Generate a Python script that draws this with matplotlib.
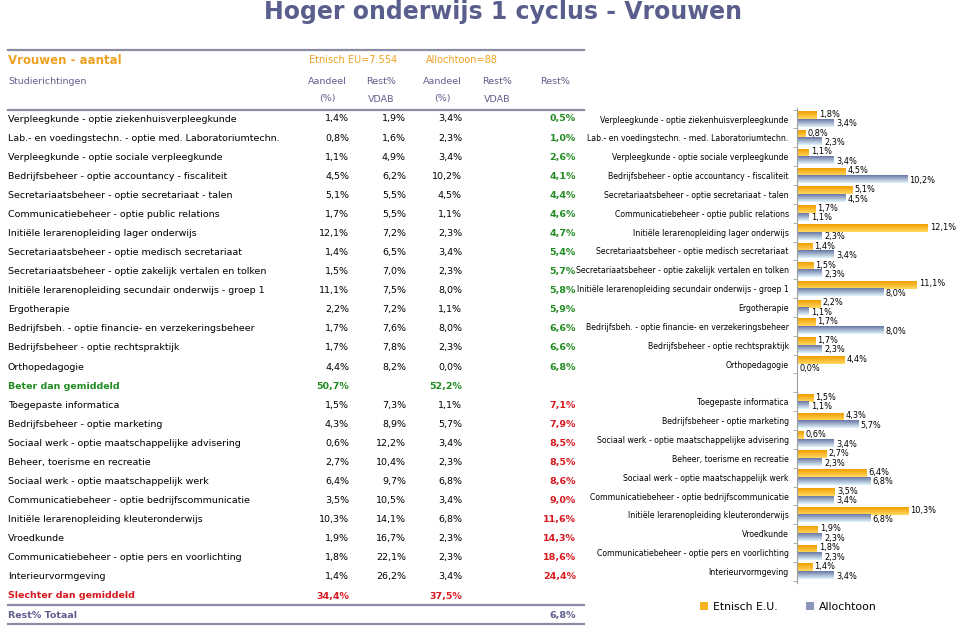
import numpy as np
import matplotlib
matplotlib.use("Agg")
import matplotlib.pyplot as plt
from matplotlib.colors import to_rgb
from matplotlib.patches import Patch

# ---- data ----
table_labels = [
    "Verpleegkunde - optie ziekenhuisverpleegkunde",
    "Lab.- en voedingstechn. - optie med. Laboratoriumtechn.",
    "Verpleegkunde - optie sociale verpleegkunde",
    "Bedrijfsbeheer - optie accountancy - fiscaliteit",
    "Secretariaatsbeheer - optie secretariaat - talen",
    "Communicatiebeheer - optie public relations",
    "Initiële lerarenopleiding lager onderwijs",
    "Secretariaatsbeheer - optie medisch secretariaat",
    "Secretariaatsbeheer - optie zakelijk vertalen en tolken",
    "Initiële lerarenopleiding secundair onderwijs - groep 1",
    "Ergotherapie",
    "Bedrijfsbeh. - optie financie- en verzekeringsbeheer",
    "Bedrijfsbeheer - optie rechtspraktijk",
    "Orthopedagogie",
    "Toegepaste informatica",
    "Bedrijfsbeheer - optie marketing",
    "Sociaal werk - optie maatschappelijke advisering",
    "Beheer, toerisme en recreatie",
    "Sociaal werk - optie maatschappelijk werk",
    "Communicatiebeheer - optie bedrijfscommunicatie",
    "Initiële lerarenopleiding kleuteronderwijs",
    "Vroedkunde",
    "Communicatiebeheer - optie pers en voorlichting",
    "Interieurvormgeving",
]
chart_labels = list(table_labels)
chart_labels[1] = "Lab.- en voedingstechn. - med. Laboratoriumtechn."

etn_aandeel = [1.4, 0.8, 1.1, 4.5, 5.1, 1.7, 12.1, 1.4, 1.5, 11.1, 2.2, 1.7, 1.7, 4.4,
               1.5, 4.3, 0.6, 2.7, 6.4, 3.5, 10.3, 1.9, 1.8, 1.4]
etn_rest = [1.9, 1.6, 4.9, 6.2, 5.5, 5.5, 7.2, 6.5, 7.0, 7.5, 7.2, 7.6, 7.8, 8.2,
            7.3, 8.9, 12.2, 10.4, 9.7, 10.5, 14.1, 16.7, 22.1, 26.2]
allo_aandeel = [3.4, 2.3, 3.4, 10.2, 4.5, 1.1, 2.3, 3.4, 2.3, 8.0, 1.1, 8.0, 2.3, 0.0,
                1.1, 5.7, 3.4, 2.3, 6.8, 3.4, 6.8, 2.3, 2.3, 3.4]
rest_total = [0.5, 1.0, 2.6, 4.1, 4.4, 4.6, 4.7, 5.4, 5.7, 5.8, 5.9, 6.6, 6.6, 6.8,
              7.1, 7.9, 8.5, 8.5, 8.6, 9.0, 11.6, 14.3, 18.6, 24.4]

chart_etn = [1.8, 0.8, 1.1, 4.5, 5.1, 1.7, 12.1, 1.4, 1.5, 11.1, 2.2, 1.7, 1.7, 4.4,
             1.5, 4.3, 0.6, 2.7, 6.4, 3.5, 10.3, 1.9, 1.8, 1.4]
chart_allo = [3.4, 2.3, 3.4, 10.2, 4.5, 1.1, 2.3, 3.4, 2.3, 8.0, 1.1, 8.0, 2.3, 0.0,
              1.1, 5.7, 3.4, 2.3, 6.8, 3.4, 6.8, 2.3, 2.3, 3.4]

n_better = 14
better_avg = [50.7, 52.2]
worse_avg = [34.4, 37.5]
rest_totaal = 6.8

# ---- colours ----
HEAD = "#5f5f8c"
ORANGE_T = "#f0a020"
GREEN = "#228b22"
RED = "#d7191f"
LINE = "#8c8ca4"

W, H = 959, 626
fig = plt.figure(figsize=(W / 100, H / 100), dpi=100)
plt.rcParams['font.family'] = ['DejaVu Sans']


def fx(px):
    return px / W


def fy(py):
    return 1 - py / H


def pct(v):
    return f"{v:.1f}%".replace(".", ",")


fig.text(fx(503), fy(12), "Hoger onderwijs 1 cyclus - Vrouwen", ha="center", va="center",
         fontsize=17, fontweight="bold", color="#5a5e8c")

# ---- table ----
fs = 6.8
for yy in (50, 110, 605, 624):
    fig.add_artist(plt.Line2D([fx(8), fx(584)], [fy(yy), fy(yy)], color=LINE, lw=1.6))

fig.text(fx(8), fy(60), "Vrouwen - aantal", ha="left", va="center", fontsize=8.5,
         fontweight="bold", color=ORANGE_T)
fig.text(fx(353), fy(60), "Etnisch EU=7.554", ha="center", va="center", fontsize=7, color=ORANGE_T)
fig.text(fx(462), fy(60), "Allochtoon=88", ha="center", va="center", fontsize=7, color=ORANGE_T)
fig.text(fx(8), fy(81), "Studierichtingen", ha="left", va="center", fontsize=fs, color=HEAD)
heads = [(327, "Aandeel", "(%)"), (381, "Rest%", "VDAB"), (442, "Aandeel", "(%)"),
         (497, "Rest%", "VDAB"), (555, "Rest%", "")]
for x, a, b in heads:
    fig.text(fx(x), fy(81), a, ha="center", va="center", fontsize=fs, color=HEAD)
    if b:
        fig.text(fx(x), fy(99), b, ha="center", va="center", fontsize=fs, color=HEAD)

col_x = [349, 406, 462, 576]
row_h = 19.08


def row_y(i):
    return 119 + i * row_h


for k, lab in enumerate(table_labels):
    r = k if k < n_better else k + 1
    y = fy(row_y(r))
    fig.text(fx(8), y, lab, ha="left", va="center", fontsize=fs, color="black")
    for x, v in zip(col_x[:3], (etn_aandeel[k], etn_rest[k], allo_aandeel[k])):
        fig.text(fx(x), y, pct(v), ha="right", va="center", fontsize=fs, color="black")
    fig.text(fx(col_x[3]), y, pct(rest_total[k]), ha="right", va="center", fontsize=fs,
             fontweight="bold", color=GREEN if k < n_better else RED)

yb = fy(row_y(n_better))
fig.text(fx(8), yb, "Beter dan gemiddeld", ha="left", va="center", fontsize=fs,
         fontweight="bold", color=GREEN)
fig.text(fx(col_x[0]), yb, pct(better_avg[0]), ha="right", va="center", fontsize=fs,
         fontweight="bold", color=GREEN)
fig.text(fx(col_x[2]), yb, pct(better_avg[1]), ha="right", va="center", fontsize=fs,
         fontweight="bold", color=GREEN)
ys = fy(row_y(len(table_labels) + 1))
fig.text(fx(8), ys, "Slechter dan gemiddeld", ha="left", va="center", fontsize=fs,
         fontweight="bold", color=RED)
fig.text(fx(col_x[0]), ys, pct(worse_avg[0]), ha="right", va="center", fontsize=fs,
         fontweight="bold", color=RED)
fig.text(fx(col_x[2]), ys, pct(worse_avg[1]), ha="right", va="center", fontsize=fs,
         fontweight="bold", color=RED)
yt = fy(row_y(len(table_labels) + 2))
fig.text(fx(8), yt, "Rest% Totaal", ha="left", va="center", fontsize=fs,
         fontweight="bold", color=HEAD)
fig.text(fx(col_x[3]), yt, pct(rest_totaal), ha="right", va="center", fontsize=fs,
         fontweight="bold", color=HEAD)

# ---- bar chart ----
slot = 18.85
top_px, bot_px = 119 - 0.6 * slot, 119 + 24.6 * slot
ax = fig.add_axes([fx(797), fy(bot_px), fx(955) - fx(797), (bot_px - top_px) / H])
xmax = 158 / 10.8
pos = [k if k < n_better else k + 1 for k in range(len(chart_labels))]


def grad(c_top, c_bot, n=32):
    t = np.linspace(0, 1, n)[:, None]
    a, b = np.array(to_rgb(c_top)), np.array(to_rgb(c_bot))
    return (a * (1 - t) + b * t)[:, None, :].repeat(2, axis=1)


g_or = grad("#f29e00", "#ffd860")
g_bl = grad("#6a77a4", "#dff4fa")
bh = 0.4
for p, e, a in zip(pos, chart_etn, chart_allo):
    if e > 0:
        ax.imshow(g_or, extent=[0, e, p, p - bh], aspect="auto", interpolation="bilinear")
    if a > 0:
        ax.imshow(g_bl, extent=[0, a, p + bh, p], aspect="auto", interpolation="bilinear")
    ax.text(e + 0.2, p - 0.25, pct(e), ha="left", va="center", fontsize=5.9, color="black")
    ax.text(a + 0.2, p + 0.25, pct(a), ha="left", va="center", fontsize=5.9, color="black")

ax.set_xlim(0, xmax)
ax.set_ylim(24.6, -0.6)
ax.set_yticks(pos)
ax.set_yticklabels(chart_labels, fontsize=5.6)
ax.set_yticks(np.arange(-0.5, 25, 1), minor=True)
ax.tick_params(axis="y", which="major", length=0, pad=6)
ax.tick_params(axis="y", which="minor", length=3, color="#a0a0a0", direction="out")
ax.set_xticks([])
for s in ("top", "right", "bottom"):
    ax.spines[s].set_visible(False)
ax.spines["left"].set_color("#a0a0a0")
ax.patch.set_alpha(0)

handles = [Patch(facecolor="#f7b420", edgecolor="none"), Patch(facecolor="#8a96bc", edgecolor="none")]
fig.legend(handles, ["Etnisch E.U.", "Allochtoon"], loc="center",
           bbox_to_anchor=(fx(788), fy(607)), ncol=2, frameon=False, fontsize=7.8,
           handlelength=0.8, handleheight=0.8, handletextpad=0.4, columnspacing=2.6)

fig.savefig("out.png", dpi=100)
